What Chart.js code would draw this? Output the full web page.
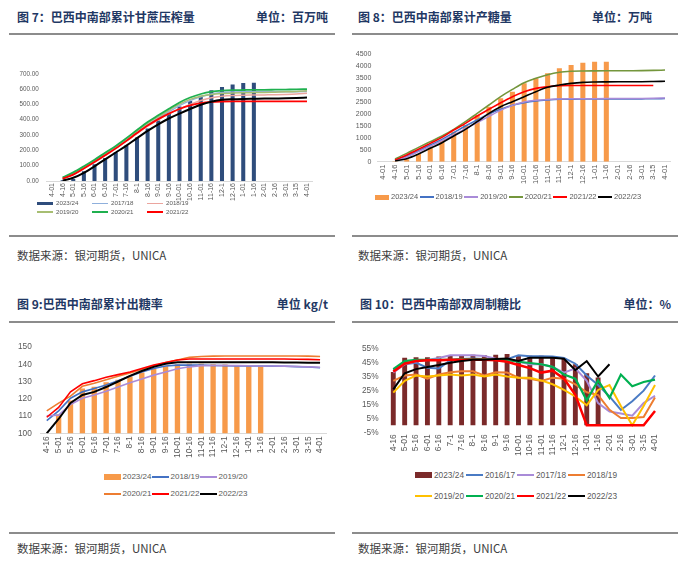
<!DOCTYPE html>
<html><head><meta charset="utf-8">
<script src="https://cdn.jsdelivr.net/npm/chart.js@4"></script>
<style>
body{margin:0;background:#fff;width:700px;height:576px;position:relative;overflow:hidden;font-family:"Noto Sans CJK SC",sans-serif;}
.title{position:absolute;font-weight:bold;font-size:12px;color:#1F3864;white-space:nowrap;line-height:14px}
.rule{position:absolute;height:2px;background:#8c8c8c}
.src{position:absolute;font-size:11.5px;color:#404040;white-space:nowrap;line-height:16px}
.box{position:absolute}
.legend{position:absolute;display:grid;font-family:"Liberation Sans",Arial,sans-serif;color:#595959;white-space:nowrap}
.li{display:flex;align-items:center}
.sym{display:inline-block;flex:none}
</style></head>
<body>
<div class="title" style="left:17px;top:10px">图 7：巴西中南部累计甘蔗压榨量</div>
<div class="title" style="right:372px;top:10px">单位：百万吨</div>
<div class="rule" style="left:9px;width:326px;top:33px"></div>
<div class="title" style="left:358px;top:10px">图 8：巴西中南部累计产糖量</div>
<div class="title" style="right:48px;top:10px">单位：万吨</div>
<div class="rule" style="left:352px;width:326px;top:33px"></div>

<div class="rule" style="left:9px;width:326px;top:235px"></div>
<div class="src" style="left:17px;top:247px">数据来源：银河期货，UNICA</div>
<div class="rule" style="left:352px;width:326px;top:235px"></div>
<div class="src" style="left:358px;top:247px">数据来源：银河期货，UNICA</div>

<div class="title" style="left:17px;top:297px">图 9:巴西中南部累计出糖率</div>
<div class="title" style="right:372px;top:297px">单位 kg/t</div>
<div class="rule" style="left:9px;width:326px;top:321px"></div>
<div class="title" style="left:360px;top:297px">图 10：巴西中南部双周制糖比</div>
<div class="title" style="right:29px;top:297px">单位：%</div>
<div class="rule" style="left:352px;width:326px;top:321px"></div>

<div class="rule" style="left:9px;width:326px;top:532px"></div>
<div class="src" style="left:17px;top:540px">数据来源：银河期货，UNICA</div>
<div class="rule" style="left:352px;width:326px;top:532px"></div>
<div class="src" style="left:358px;top:540px">数据来源：银河期货，UNICA</div>

<div class="box" style="left:0px;top:62px;width:318px;height:142px"><canvas id="c7"></canvas></div>
<div class="box" style="left:350px;top:44px;width:328px;height:144px"><canvas id="c8"></canvas></div>
<div class="box" style="left:0px;top:333px;width:334px;height:133px"><canvas id="c9"></canvas></div>
<div class="box" style="left:350px;top:335px;width:320px;height:127px"><canvas id="c10"></canvas></div>

<div id="l7" class="legend"></div>
<div id="l8" class="legend"></div>
<div id="l9" class="legend"></div>
<div id="l10" class="legend"></div>

<script>
// ---------- Chart 7: cumulative cane crushing (million t) ----------
const c7Labels = ['4-01','4-16','5-01','5-16','6-01','6-16','7-01','7-16','8-1','8-16','9-01','9-16','10-01','10-16','11-01','11-16','12-1','12-16','1-01','1-16','2-01','2-16','3-01','3-15','4-01'];
const c7Y2324 = [null,5,13,64,109,150,188,231,284,342,395,444,487,523,557,593,614,630,640,641,null,null,null,null,null];
const c7Y1718 = [null,16,48,87,129,173,218,267,318,367,411,452,492,525,550,568,577,581,583,583,583,583,583,583,584];
const c7Y1819 = [null,14,44,82,123,167,212,260,310,358,400,438,470,500,525,543,553,558,560,561,562,563,565,568,573];
const c7Y1920 = [null,20,52,92,135,180,225,275,327,377,420,462,502,533,553,565,571,574,576,577,578,580,582,585,590];
const c7Y2021 = [null,24,56,96,139,184,229,280,333,385,429,472,513,545,568,583,590,593,594,595,595,596,597,598,600];
const c7Y2122 = [null,15,42,82,124,168,213,262,313,362,404,440,470,493,508,516,519,520,520,520,520,520,520,520,520];
const c7Y2223 = [null,2,21,53,96,141,186,231,280,327,370,408,440,470,498,518,530,534,536,537,538,539,540,542,545];
const c7Ticks = {min:0,max:700,step:100};

// ---------- Chart 8: cumulative sugar output (10k t) ----------
const c8Labels = ['4-01','4-16','5-01','5-16','6-01','6-16','7-01','7-16','8-1','8-16','9-01','9-16','10-01','10-16','11-01','11-16','12-1','12-16','1-01','1-16','2-01','2-16','3-01','3-15','4-01'];
const c8Y2324 = [null,20,100,322,630,909,1257,1537,1956,2305,2654,2933,3283,3493,3703,3913,4051,4148,4185,4190,null,null,null,null,null];
const c8Y1819 = [null,70,238,461,700,937,1216,1496,1747,1998,2195,2363,2472,2543,2585,2614,2620,2625,2627,2628,2630,2630,2632,2635,2645];
const c8Y1920 = [null,50,200,420,640,880,1120,1380,1640,1900,2150,2360,2500,2575,2610,2625,2635,2640,2642,2643,2644,2645,2648,2655,2670];
const c8Y2021 = [null,113,350,600,840,1077,1356,1676,2026,2375,2725,3030,3310,3493,3645,3745,3787,3800,3805,3808,3810,3812,3815,3825,3840];
const c8Y2122 = [null,70,280,518,768,1020,1328,1607,1915,2195,2472,2724,2933,3073,3143,3185,3190,3190,3190,3190,3190,3190,3190,3190,null];
const c8Y2223 = [null,30,126,322,560,797,1077,1356,1676,2026,2305,2514,2724,2933,3115,3213,3283,3325,3340,3345,3348,3350,3352,3360,3370];
const c8Ticks = {min:0,max:4500,step:500};

// ---------- Chart 9: cumulative ATR (kg/t) ----------
const c9Labels = ['4-16','5-01','5-16','6-01','6-16','7-01','7-16','8-1','8-16','9-01','9-16','10-01','10-16','11-01','11-16','12-1','12-16','1-01','1-16','2-01','2-16','3-01','3-15','4-01'];
const c9Y2324 = [null,111,119,126,127,129.6,131,133,135.2,137.4,138.9,140,140.3,140.3,140,139.8,139.5,139.3,139.3,null,null,null,null,null];
const c9Y1819 = [107.4,113,120.3,124,126,128,130.5,133,135.5,137.5,139,139.5,139.5,139.5,139.3,139.2,139,139,139,138.9,138.8,138.6,138.4,138];
const c9Y1920 = [110.2,110.5,116.7,120.3,122.2,124.4,126.8,129.3,131.5,133.7,135.5,137.4,138.5,139.2,139.3,139.3,139.2,139.1,139,139,138.9,138.7,138.5,138.3];
const c9Y2021 = [113,117.5,121.5,127.2,129,131,133,135,137,139,141,142.5,144,144.5,144.7,144.8,144.8,144.8,144.8,144.8,144.8,144.8,144.7,144.5];
const c9Y2122 = [109.3,115,124,128.7,130.5,132.5,134,135.5,137.5,139.5,141,142.5,143,143,143,143,143,143,143,143,143,142.9,142.8,142.6];
const c9Y2223 = [100,108.3,117.6,122.2,124,126.8,130,133.3,136.1,138.5,140.3,141.1,141.2,141.2,141.2,141.2,141.2,141.2,141.2,141.1,141,141,140.9,140.8];
const c9Ticks = {min:100,max:150,step:10};

// ---------- Chart 10: biweekly sugar mix (%) ----------
const c10Labels = ['4-16','5-01','5-16','6-01','6-16','7-1','7-16','8-1','8-16','9-1','9-16','10-01','10-16','11-01','11-16','12-1','12-16','1-01','1-16','2-01','2-16','3-01','3-15','4-01'];
const c10Y2324 = [38.5,48.6,49,49,49.5,50,50.4,50.9,50.4,50.9,51.4,50.4,50.2,50.2,50,48,44,37.5,34.5,null,null,null,null,null];
const c10Y1617 = [40,44,45,41.5,41,46.8,47.7,48.1,47.7,47.2,47.7,50.4,49.8,49.8,49.5,48.6,44.4,35.9,29,20.8,11.1,17.4,25,35.9];
const c10Y1718 = [38,44,46,47,48.5,50.4,50.5,50.5,50,48,47,46,44,44,42,38,41,32,16,10,8.5,7,16,21.3];
const c10Y1819 = [32,35.9,36.6,33.6,36.6,38.2,38.9,38.9,35.9,38.2,38,34.3,33.6,32,34.3,33.6,29.5,23.8,21.8,11.2,5.3,5.3,6,20];
const c10Y1920 = [23.6,32,35.9,35.2,35.9,36.6,35.9,36.6,35.2,36.6,35.2,34.3,34.3,32.4,29.6,25.5,20.8,14.4,25.5,29,13.9,0,13.9,29];
const c10Y2021 = [40.5,46.3,47.2,47.2,47.2,47.2,47.7,47.7,47.7,47.2,47.2,45.8,44.9,44,42.1,36.6,33.6,18,32.4,19.7,36.6,28.2,31.2,32.9];
const c10Y2122 = [38.7,44.4,46.3,46.8,46.8,47.2,47.2,47.2,47.2,46.8,45.8,43.5,41.2,38,39.4,33.6,22,0,0,0,0,0,0,10.4];
const c10Y2223 = [25.9,37.5,40.5,42.1,43.5,45.1,46.3,47.2,47.2,47.7,48.1,46.3,48.6,48.6,48.6,47.9,39.8,46.3,35.2,44,null,null,null,null];
const c10Ticks = {min:-5,max:55,step:10};

const FONT = '"Liberation Sans", Arial, sans-serif';

function barDs(label, data, color, pct){
  return {type:'bar', label, data, backgroundColor:color, borderWidth:0, barPercentage:pct, categoryPercentage:1, order:100, kind:'bar'};
}
function lineDs(label, data, color, width, tension, order, hideLegend){
  return {type:'line', label, data, borderColor:color, backgroundColor:color, borderWidth:width, pointRadius:0,
    fill:false, tension:tension, cubicInterpolationMode: tension>0 ? 'monotone' : 'default', order, kind:'line', hideLegend:!!hideLegend};
}

function build(id, labels, datasets, o){
  return new Chart(document.getElementById(id), {
    type:'bar',
    data:{labels, datasets},
    options:{
      responsive:true, maintainAspectRatio:false, animation:false,
      layout:{padding:{top:o.padTop,right:o.padRight,left:0,bottom:0}},
      plugins:{legend:{display:false}, tooltip:{enabled:false}},
      scales:{
        x:{
          grid:{display:false, drawTicks:false},
          border:{display:o.zeroLine ? false : true, color:'#d9d9d9', width:1},
          ticks:{autoSkip:false, maxRotation:90, minRotation:90, padding:o.xPad, color:'#595959', font:{family:FONT, size:o.xFont}},
          afterFit:(s)=>{s.height = o.xH;}
        },
        y:{
          min:o.ticks.min, max:o.ticks.max,
          grid:{display:!!o.zeroLine, drawTicks:false, color:(c)=> (c.tick && c.tick.value===0) ? '#d9d9d9' : 'rgba(0,0,0,0)'},
          border:{display:false},
          ticks:{stepSize:o.ticks.step, padding:o.yPad, color:'#595959', font:{family:FONT, size:o.yFont}, callback:o.fmt},
          afterFit:(s)=>{s.width = o.yW;}
        }
      }
    }
  });
}

function legend(id, chart, o){
  const el = document.getElementById(id);
  el.style.left = o.left+'px'; el.style.top = o.top+'px';
  el.style.gridTemplateColumns = `repeat(${o.cols}, ${o.colW}px)`;
  el.style.gridAutoRows = o.rowH+'px';
  el.style.fontSize = o.font+'px';
  chart.data.datasets.filter(d=>!d.hideLegend).forEach(d=>{
    const it = document.createElement('div'); it.className='li';
    it.style.lineHeight = o.rowH+'px';
    const s = document.createElement('span'); s.className='sym';
    s.style.width = o.symW+'px';
    if(d.kind==='bar'){ s.style.height = o.boxH+'px'; s.style.background = d.backgroundColor; }
    else { s.style.height = o.lineH+'px'; s.style.background = d.borderColor; }
    s.style.marginRight = o.gap+'px';
    const t = document.createElement('span'); t.textContent = d.label;
    it.appendChild(s); it.appendChild(t); el.appendChild(it);
  });
}

const ch7 = build('c7', c7Labels, [
  barDs('2023/24', c7Y2324, '#2F4D7C', 0.38),
  lineDs('2017/18', c7Y1718, '#8FB0DC', 1.5, 0.4, 7),
  lineDs('2018/19', c7Y1819, '#EBA59E', 1.5, 0.4, 6),
  lineDs('2019/20', c7Y1920, '#A7BE72', 1.5, 0.4, 5),
  lineDs('2020/21', c7Y2021, '#1FB04F', 1.8, 0.4, 4),
  lineDs('2021/22', c7Y2122, '#FF0000', 1.8, 0.4, 3),
  lineDs('2022/23', c7Y2223, '#000000', 2, 0.4, 2, true)
], {padTop:10, padRight:5.7, yW:46.7, xH:23, xPad:2, yPad:8, xFont:7, yFont:6.3, ticks:c7Ticks, fmt:(v)=>v.toFixed(2)});

const ch8 = build('c8', c8Labels, [
  barDs('2023/24', c8Y2324, '#F79A4A', 0.43),
  lineDs('2018/19', c8Y1819, '#4472C4', 1.5, 0.4, 7),
  lineDs('2019/20', c8Y1920, '#A98BD8', 1.5, 0.4, 6),
  lineDs('2020/21', c8Y2021, '#74963C', 1.6, 0.4, 5),
  lineDs('2021/22', c8Y2122, '#FF0000', 1.6, 0.4, 4),
  lineDs('2022/23', c8Y2223, '#000000', 1.6, 0.4, 3)
], {padTop:10.3, padRight:7.1, yW:27.4, xH:26.3, xPad:3, yPad:6, xFont:7.5, yFont:7, ticks:c8Ticks, fmt:(v)=>String(v)});

const ch9 = build('c9', c9Labels, [
  barDs('2023/24', c9Y2324, '#F79A4A', 0.45),
  lineDs('2018/19', c9Y1819, '#4472C4', 1.6, 0, 7),
  lineDs('2019/20', c9Y1920, '#A98BD8', 1.6, 0, 6),
  lineDs('2020/21', c9Y2021, '#ED7D31', 1.6, 0, 5),
  lineDs('2021/22', c9Y2122, '#FF0000', 1.6, 0, 4),
  lineDs('2022/23', c9Y2223, '#000000', 2, 0, 3)
], {padTop:10.3, padRight:8, yW:40.8, xH:32.7, xPad:3, yPad:9, xFont:8.5, yFont:8.3, ticks:c9Ticks, fmt:(v)=>String(v)});

const ch10 = build('c10', c10Labels, [
  barDs('2023/24', c10Y2324, '#7B2A2A', 0.43),
  lineDs('2016/17', c10Y1617, '#4A7BC4', 2, 0, 9),
  lineDs('2017/18', c10Y1718, '#A98BD8', 2, 0, 8),
  lineDs('2018/19', c10Y1819, '#ED7D31', 2, 0, 7),
  lineDs('2019/20', c10Y1920, '#FFC000', 2, 0, 6),
  lineDs('2020/21', c10Y2021, '#00B050', 2.2, 0, 5),
  lineDs('2021/22', c10Y2122, '#FF0000', 2.5, 0, 4),
  lineDs('2022/23', c10Y2223, '#000000', 2, 0, 3)
], {padTop:10.7, padRight:9.3, yW:37.6, xH:29.7, xPad:2, yPad:9, xFont:8.5, yFont:8.3, ticks:c10Ticks, fmt:(v)=>v+'%', zeroLine:true});

legend('l7', ch7, {left:37, top:199, cols:3, colW:55, rowH:8.5, font:6.2, symW:16, boxH:3.5, lineH:1.5, gap:3});
legend('l8', ch8, {left:375, top:192, cols:6, colW:44.6, rowH:10, font:7.5, symW:14, boxH:5, lineH:1.8, gap:2});
legend('l9', ch9, {left:104, top:468, cols:3, colW:48, rowH:17.3, font:8, symW:17, boxH:6, lineH:2, gap:1.5});
legend('l10', ch10, {left:415, top:465, cols:4, colW:51, rowH:20.7, font:8.3, symW:17, boxH:6, lineH:2, gap:2});
</script>
</body></html>
